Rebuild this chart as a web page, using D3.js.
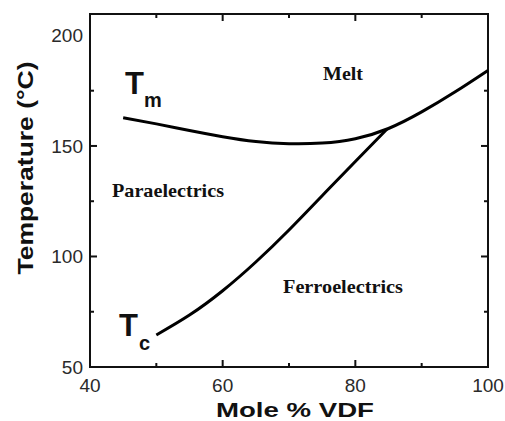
<!DOCTYPE html>
<html>
<head>
<meta charset="utf-8">
<script src="https://cdn.jsdelivr.net/npm/d3@7"></script>
<style>
  html, body { margin: 0; padding: 0; background: #fff; }
  svg { display: block; }
</style>
</head>
<body>
<svg id="chart" width="505" height="421"></svg>
<script>
// ---- data ----
const tmX = [45, 50, 55, 60, 65, 70, 75, 80, 85, 90, 95, 100];
const tmY = [162.8, 160, 157, 154.2, 152, 151, 151.3, 153.3, 157.9, 165.4, 174.4, 184.2];
const tcX = [50, 55, 60, 65, 70, 75, 80, 84.8];
const tcY = [64.5, 73.5, 84.5, 97.5, 112, 127.5, 143, 157.7];
const xTicks = [40, 60, 80, 100];
const xMinor = [50, 70, 90];
const yTicks = [50, 100, 150, 200];
const yMinor = [75, 125, 175];

const svg = d3.select("#chart");
const L = 90, R = 488, T = 14, B = 367;
const x = d3.scaleLinear().domain([40, 100]).range([L, R]);
const y = d3.scaleLinear().domain([50, 209.7]).range([B, T]);

// frame
svg.append("rect").attr("x", L).attr("y", T).attr("width", R - L).attr("height", B - T)
  .attr("fill", "none").attr("stroke", "#111").attr("stroke-width", 2);

// ticks (inward on all sides)
const tickG = svg.append("g").attr("stroke", "#111").attr("stroke-width", 2);
function xt(vals, len) {
  vals.forEach(v => {
    tickG.append("line").attr("x1", x(v)).attr("x2", x(v)).attr("y1", B).attr("y2", B - len);
    tickG.append("line").attr("x1", x(v)).attr("x2", x(v)).attr("y1", T).attr("y2", T + len);
  });
}
function yt(vals, len) {
  vals.forEach(v => {
    tickG.append("line").attr("y1", y(v)).attr("y2", y(v)).attr("x1", L).attr("x2", L + len);
    tickG.append("line").attr("y1", y(v)).attr("y2", y(v)).attr("x1", R).attr("x2", R - len);
  });
}
xt(xTicks.slice(1, -1), 7); xt(xMinor, 4);
yt(yTicks.slice(1, -1), 7); yt(yMinor, 4);

// tick labels
const lab = svg.append("g").attr("font-family", "Liberation Sans, Arial, sans-serif")
  .attr("font-size", 19).attr("fill", "#2a2a2a");
xTicks.forEach(v => {
  lab.append("text").attr("x", x(v)).attr("y", 392).attr("text-anchor", "middle").text(v);
});
yTicks.forEach(v => {
  lab.append("text").attr("x", 83).attr("y", y(v) + 7).attr("text-anchor", "end").text(v);
});

// axis titles
svg.append("text").attr("x", 295).attr("y", 417).attr("text-anchor", "middle")
  .attr("font-family", "Liberation Sans, Arial, sans-serif").attr("font-weight", "bold")
  .attr("font-size", 21).attr("textLength", 158).attr("lengthAdjust", "spacingAndGlyphs")
  .attr("fill", "#111").text("Mole % VDF");
svg.append("text").attr("transform", "translate(33,168) rotate(-90)").attr("text-anchor", "middle")
  .attr("font-family", "Liberation Sans, Arial, sans-serif").attr("font-weight", "bold")
  .attr("font-size", 22).attr("textLength", 213).attr("lengthAdjust", "spacingAndGlyphs")
  .attr("fill", "#111").text("Temperature (°C)");

// curves
const line = d3.line().x(d => x(d[0])).y(d => y(d[1])).curve(d3.curveNatural);
svg.append("path").datum(tmX.map((v, i) => [v, tmY[i]])).attr("d", line)
  .attr("fill", "none").attr("stroke", "#000").attr("stroke-width", 3);
svg.append("path").datum(tcX.map((v, i) => [v, tcY[i]])).attr("d", line)
  .attr("fill", "none").attr("stroke", "#000").attr("stroke-width", 3);

// curve labels
function sym(xp, yp, main, sub, subDx, subDy) {
  const t = svg.append("text").attr("x", xp).attr("y", yp)
    .attr("font-family", "Liberation Sans, Arial, sans-serif").attr("font-weight", "bold").attr("fill", "#111");
  t.append("tspan").attr("font-size", 31).text(main);
  t.append("tspan").attr("font-size", 20).attr("dx", subDx).attr("dy", subDy).text(sub);
}
sym(125, 94, "T", "m", 0, 13);
sym(119, 336, "T", "c", 1, 14);

// region labels
const reg = svg.append("g").attr("font-family", "Liberation Serif, Times New Roman, serif")
  .attr("font-weight", "bold").attr("font-size", 19).attr("fill", "#111");
reg.append("text").attr("x", 323).attr("y", 80).attr("textLength", 40).attr("lengthAdjust", "spacingAndGlyphs").text("Melt");
reg.append("text").attr("x", 112).attr("y", 197).attr("textLength", 112).attr("lengthAdjust", "spacingAndGlyphs").text("Paraelectrics");
reg.append("text").attr("x", 283).attr("y", 293).attr("textLength", 120).attr("lengthAdjust", "spacingAndGlyphs").text("Ferroelectrics");
</script>
</body>
</html>
